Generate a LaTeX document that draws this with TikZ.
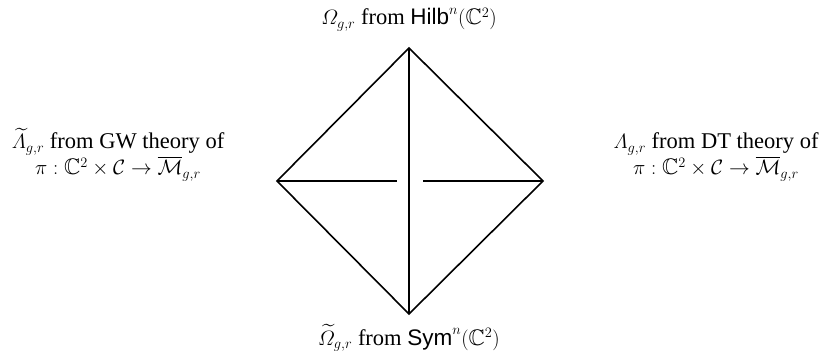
\documentclass[tikz,border=0pt]{standalone}
\usepackage{amsmath}
\usepackage{amssymb}
\usepackage{fontspec}
\setmainfont{Liberation Serif}
\setsansfont{Liberation Sans}
\begin{document}
\begin{tikzpicture}[x=1pt,y=-1pt,
  edge/.style={line width=1.6pt,line join=miter},
  lbl/.style={font=\fontsize{22.5}{26}\selectfont,align=center,inner sep=0pt}]
\useasboundingbox (0,0) rectangle (830,355);
\coordinate (T) at (409,48);
\coordinate (B) at (409,314);
\coordinate (L) at (277,181);
\coordinate (R) at (543,181);
\coordinate (GL) at (397,181);
\coordinate (GR) at (423,181);
\draw[edge] (T) -- (R) -- (B) -- (L) -- cycle;
\draw[edge] (T) -- (B);
\draw[edge] (L) -- (GL);
\draw[edge] (GR) -- (R);
\node[lbl,anchor=base] (top) at (409,25) {$\varOmega_{g,r}$ from $\textsf{Hilb}^n(\mathbb{C}^2)$};
\node[lbl,anchor=base] (bot) at (409,345) {$\widetilde{\varOmega}_{g,r}$ from $\textsf{Sym}^n(\mathbb{C}^2)$};
\node[lbl,anchor=base] (left) at (118,175) {$\widetilde{\varLambda}_{g,r}$ from GW theory of\\ $\pi:\mathbb{C}^2\times\mathcal{C}\to\overline{\mathcal{M}}_{g,r}$};
\node[lbl,anchor=base] (right) at (716,175) {$\varLambda_{g,r}$ from DT theory of\\ $\pi:\mathbb{C}^2\times\mathcal{C}\to\overline{\mathcal{M}}_{g,r}$};
\end{tikzpicture}
\end{document}
